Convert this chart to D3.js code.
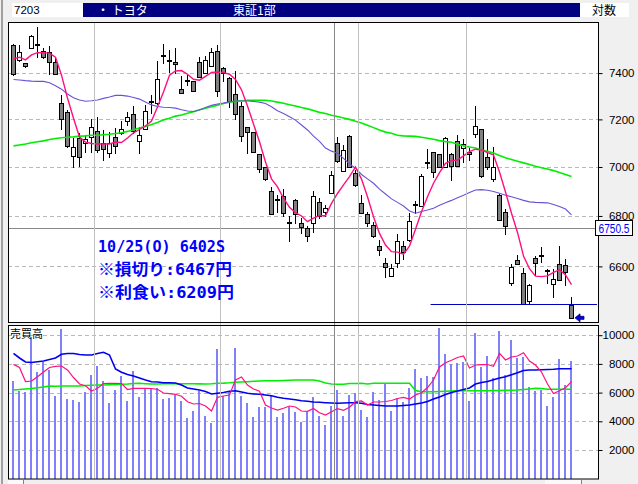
<!DOCTYPE html>
<html><head><meta charset="utf-8">
<script src="https://cdn.jsdelivr.net/npm/d3@7"></script>
<style>
html,body{margin:0;padding:0;background:#f0f0f0;}
svg{display:block;}
</style></head><body>
<svg id="c" width="638" height="484"></svg>
<script>
// ---- data ----
const headerCode = "7203";
const headerName = "・ トヨタ";
const headerMarket = "東証1部";
const headerScale = "対数";
const volumeTitle = "売買高";
const noteLines = ["10/25(O) 6402S", "※損切り:6467円", "※利食い:6209円"];

const opens = [7526,7457,7443,7509,7525,7499,7494,7447,7269,7230,
 7047,7120,7101,7127,7149,7101,7057,7124,7143,7194,
 7222,7110,7158,7276,7271,7475,7454,7447,7330,7370,
 7365,7447,7399,7433,7498,7421,7377,7309,7257,7166,
 7145,7053,6999,6901,6865,6882,6773,6865,6771,6750,
 6771,6858,6817,6894,7098,6985,7130,6975,6853,6807,
 6764,6682,6612,6564,6612,6682,6704,6844,6841,7018,
 7064,7053,7001,7053,7110,7081,7064,7137,7158,7040,
 6949,6885,6815,6537,6626,6573,6466,6632,6642,6583,
 6532,6609,6606,6450];
const highs = [7530,7524,7446,7569,7603,7509,7520,7466,7303,7240,
 7120,7141,7134,7200,7209,7155,7148,7165,7195,7233,
 7257,7169,7261,7304,7454,7528,7502,7509,7387,7391,
 7365,7470,7475,7509,7524,7428,7384,7409,7276,7166,
 7145,7053,6999,6919,6885,6909,6798,6869,6791,6760,
 6900,6872,6844,6983,7127,7092,7134,6988,6885,6815,
 6777,6704,6631,6610,6728,6699,6811,6862,6971,7074,
 7064,7053,7127,7060,7134,7117,7078,7257,7160,7117,
 7082,6891,6828,6610,6645,6593,6530,6641,6675,6591,
 6590,6680,6629,6481];
const lows = [7390,7455,7425,7509,7472,7466,7395,7395,7158,7085,
 6999,7005,7061,7064,7064,7029,7040,7057,7140,7176,
 7141,7059,7158,7226,7265,7443,7406,7399,7312,7348,
 7322,7382,7399,7433,7301,7367,7254,7201,7110,7057,
 7061,6979,6945,6807,6817,6798,6701,6771,6730,6698,
 6736,6791,6798,6894,7021,6985,7001,6922,6810,6760,
 6714,6645,6558,6562,6599,6630,6698,6811,6841,6995,
 6959,6999,7001,6946,7005,7022,7029,7124,6960,6990,
 6942,6784,6727,6526,6609,6453,6460,6567,6616,6537,
 6481,6548,6529,6402];
const closes = [7395,7495,7430,7563,7525,7470,7447,7395,7200,7089,
 7085,7040,7117,7169,7071,7074,7098,7088,7160,7209,
 7151,7134,7236,7276,7373,7475,7454,7439,7312,7365,
 7322,7382,7457,7492,7322,7402,7280,7222,7131,7145,
 7061,6990,6949,6807,6865,6813,6773,6807,6757,6721,
 6882,6801,6833,6967,7026,7071,7001,6926,6813,6771,
 6721,6665,6597,6593,6699,6658,6781,6844,6963,7018,
 6978,6999,7120,7004,7005,7095,7053,7173,6964,7001,
 7001,6784,6760,6597,6609,6453,6527,6612,6642,6583,
 6550,6548,6578,6402];

const maShort = [7462,7470,7458,7480,7490,7490,7488,7470,7391,7292,
 7205,7125,7104,7098,7096,7096,7096,7104,7102,7121,
 7143,7157,7172,7193,7253,7318,7391,7409,7411,7395,
 7373,7369,7386,7403,7405,7402,7395,7372,7327,7257,
 7180,7105,7021,6951,6918,6872,6835,6813,6800,6777,
 6791,6801,6801,6851,6891,6926,6960,7000,6950,6878,
 6797,6730,6684,6658,6656,6648,6680,6747,6817,6878,
 6933,6977,7015,7026,7029,7046,7064,7074,7071,7060,
 7050,6979,6897,6811,6734,6641,6591,6562,6560,6563,
 6577,6587,6567,6529];
const maMid = [7372,7370,7367,7365,7364,7364,7358,7345,7330,7309,
 7293,7283,7278,7280,7283,7290,7296,7303,7303,7300,
 7294,7287,7274,7262,7255,7252,7251,7248,7241,7236,
 7234,7240,7251,7260,7266,7270,7275,7279,7279,7279,
 7277,7274,7268,7254,7237,7225,7211,7197,7176,7155,
 7129,7107,7079,7066,7057,7036,7013,6995,6969,6951,
 6933,6909,6889,6869,6855,6840,6820,6811,6818,6824,
 6831,6843,6853,6863,6874,6884,6895,6905,6907,6904,
 6899,6892,6884,6878,6871,6863,6857,6855,6854,6853,
 6846,6838,6828,6804];
const maLong = [7088,7092,7096,7101,7105,7109,7115,7119,7122,7124,
 7126,7129,7130,7133,7133,7135,7137,7140,7143,7149,
 7156,7163,7170,7178,7187,7198,7205,7214,7219,7226,
 7233,7241,7248,7254,7261,7268,7274,7277,7280,7282,
 7282,7282,7282,7279,7274,7269,7263,7257,7251,7245,
 7238,7230,7225,7218,7212,7206,7200,7192,7185,7175,
 7165,7155,7146,7141,7133,7130,7129,7128,7124,7120,
 7116,7110,7106,7103,7095,7088,7083,7079,7071,7065,
 7058,7048,7038,7031,7024,7017,7010,7003,6997,6992,
 6985,6977,6969,6961];

const volumes = [6808,6111,6042,9895,7456,8111,7575,5763,10432,5554,
 5484,5345,6042,7226,7854,6808,5296,6181,7157,5436,
 7505,5714,6272,6230,6342,5575,5645,5833,5436,4230,
 4739,6132,4369,3861,9038,5763,6132,9108,5763,5296,
 4279,4976,4976,5763,4279,4557,4976,4669,3972,4669,
 5672,4400,3742,5066,6181,4369,5833,5993,4787,4321,
 6063,5484,6690,4718,5645,5366,6342,7645,7038,7157,
 7066,10502,8690,7993,8084,8153,5415,10174,7805,8551,
 6997,10293,7226,9666,8390,8481,6411,6132,6181,5066,
 5714,8341,6530,8223];
const volMaShort = [7965,7749,6774,6808,7108,7436,7749,7833,7854,7575,
 7052,6599,6481,6111,6300,6634,6648,6648,6634,6216,
 6300,6300,6300,6286,6230,5972,5923,5882,5742,5366,
 5206,5240,5066,4718,5672,5763,5833,6878,7087,6530,
 6251,6091,5136,4927,4787,4906,5066,4997,4718,4697,
 4892,4599,4439,4669,4878,4767,4976,5366,5415,5136,
 5345,5345,5380,5449,5589,5672,5554,5833,5993,6355,
 6878,7784,8084,8251,8446,8551,7714,7923,7944,7958,
 7833,8739,8272,8481,8551,8780,8202,7923,7436,6599,
 5937,6132,6341,6760];
const volMaMid = [8739,8411,8132,8098,8153,8202,8307,8411,8669,8725,
 8725,8655,8620,8620,8725,8808,8620,7645,7415,7261,
 7157,7017,6878,6760,6739,6690,6690,6669,6530,6321,
 6251,6181,6077,5902,5951,6007,6091,6132,6042,5951,
 5902,5882,5833,5784,5672,5603,5554,5505,5436,5394,
 5345,5324,5296,5275,5254,5275,5289,5289,5254,5171,
 5136,5101,5066,5066,5066,5101,5136,5206,5275,5380,
 5554,5693,5868,6007,6112,6216,6321,6599,6704,6774,
 6899,7017,7108,7247,7387,7540,7575,7575,7589,7610,
 7624,7659,7666,7666];
const volMaLong = [6181,6216,6251,6286,6341,6390,6460,6439,6460,6460,
 6460,6460,6495,6509,6530,6530,6544,6564,6578,6599,
 6634,6648,6620,6599,6599,6613,6613,6613,6613,6613,
 6613,6606,6599,6613,6648,6660,6683,6718,6739,6760,
 6787,6808,6829,6829,6829,6843,6864,6878,6878,6878,
 6878,6808,6669,6599,6578,6578,6634,6634,6648,6599,
 6648,6648,6648,6648,6648,6648,6648,6146,6063,6063,
 6063,6077,6097,6112,6125,6132,6132,6132,6132,6132,
 6146,6146,6160,6160,6181,6216,6251,6300,6286,6230,
 6230,6230,6230,6230];

const priceTicks = [6600, 6800, 7000, 7200, 7400];
const volumeTicks = [2000, 4000, 6000, 8000, 10000];
const monthBreaks = [13.5, 34.5, 57.5, 75.5];   // bar-index positions of month separators
const crossIndex = 53.42;
const crossPrice = 6750.5;
const levelPrice = 6453;
const levelStartIndex = 69.6;
const lastCloseLabel = "6750.5";

// ---- layout ----
const svg = d3.select("#c");
const M = {l:8, r:598, t:22, b:322};
const V = {l:8, r:598, t:325.5, b:479};
const n = opens.length;
const x = d3.scaleLinear().domain([0, n-1]).range([13, 571]);
const y = d3.scaleLog().domain([6600, 7400]).range([266.4, 73.1]);
const yv = d3.scaleLinear().domain([0, 10000]).range([478.7, 335.2]);
const idx = d3.range(n);
const JP = "'Noto Sans CJK JP', sans-serif";
const NUM = "'Liberation Sans', Arial, sans-serif";

svg.append("rect").attr("width",638).attr("height",484).attr("fill","#f0f0f0");
svg.append("rect").attr("x",1).attr("y",0).attr("width",2).attr("height",484).attr("fill","#a0a0a0");

// header
svg.append("rect").attr("x",12).attr("y",3).attr("width",71).attr("height",14).attr("fill","#fff");
svg.append("text").attr("x",14).attr("y",14).text(headerCode).attr("font-family",NUM).attr("font-size",11.5).attr("fill","#000");
svg.append("rect").attr("x",83).attr("y",3).attr("width",497).attr("height",14).attr("fill","#000080");
svg.append("text").attr("x",97).attr("y",14.5).text(headerName).attr("font-family",JP).attr("font-size",12).attr("fill","#fff");
svg.append("text").attr("x",233).attr("y",14.5).text(headerMarket).attr("font-family",JP).attr("font-size",12).attr("fill","#fff");
svg.append("rect").attr("x",580).attr("y",3).attr("width",49).attr("height",14).attr("fill","#fff");
svg.append("text").attr("x",592).attr("y",14.5).text(headerScale).attr("font-family",JP).attr("font-size",12).attr("fill","#000");

// clip paths
const defs = svg.append("defs");
defs.append("clipPath").attr("id","cm").append("rect").attr("x",M.l).attr("y",M.t).attr("width",M.r-M.l).attr("height",M.b-M.t);
defs.append("clipPath").attr("id","cv").append("rect").attr("x",V.l).attr("y",V.t).attr("width",V.r-V.l).attr("height",V.b-V.t);

// panels
svg.append("rect").attr("x",M.l+0.5).attr("y",M.t+0.5).attr("width",M.r-M.l).attr("height",M.b-M.t).attr("fill","#fff");
svg.append("rect").attr("x",V.l+0.5).attr("y",V.t).attr("width",V.r-V.l).attr("height",V.b-V.t).attr("fill","#fff");

const gm = svg.append("g").attr("clip-path","url(#cm)");
const gv = svg.append("g").attr("clip-path","url(#cv)");

// dashed grids
gm.selectAll("line.hg").data(priceTicks).join("line")
  .attr("x1",M.l).attr("x2",M.r).attr("y1",d=>Math.round(y(d))+0.5).attr("y2",d=>Math.round(y(d))+0.5)
  .attr("stroke","#b8b8b8").attr("stroke-dasharray","4,3");
gv.selectAll("line.hg").data(volumeTicks).join("line")
  .attr("x1",V.l).attr("x2",V.r).attr("y1",d=>Math.round(yv(d))+0.5).attr("y2",d=>Math.round(yv(d))+0.5)
  .attr("stroke","#b8b8b8").attr("stroke-dasharray","4,3");

// month separators & crosshair (span both panels)
svg.selectAll("line.mb").data(monthBreaks).join("line")
  .attr("x1",d=>Math.round(x(d))+0.5).attr("x2",d=>Math.round(x(d))+0.5)
  .attr("y1",M.t+1).attr("y2",V.b).attr("stroke","#c0c0c0");
svg.append("line").attr("x1",Math.round(x(crossIndex))+0.5).attr("x2",Math.round(x(crossIndex))+0.5)
  .attr("y1",M.t+1).attr("y2",V.b).attr("stroke","#888");
gm.append("line").attr("x1",M.l).attr("x2",M.r).attr("y1",Math.round(y(crossPrice))+0.5).attr("y2",Math.round(y(crossPrice))+0.5)
  .attr("stroke","#888");

// candles
const cg = gm.append("g").attr("shape-rendering","crispEdges");
idx.forEach(i=>{
  const px = Math.round(x(i));
  cg.append("line").attr("x1",px+0.5).attr("x2",px+0.5)
    .attr("y1",Math.round(y(highs[i]))).attr("y2",Math.round(y(lows[i]))+1).attr("stroke","#000");
  const o = opens[i], c = closes[i];
  if (Math.abs(o-c) < 3) {
    cg.append("rect").attr("x",px-2).attr("width",5).attr("y",Math.round(y(c))-1).attr("height",2).attr("fill","#000");
  } else {
    const t = Math.round(y(Math.max(o,c))), b = Math.round(y(Math.min(o,c)));
    cg.append("rect").attr("x",px-1.5).attr("width",4).attr("y",t+0.5).attr("height",Math.max(b-t,1))
      .attr("fill", c>o ? "#fff" : "#808080").attr("stroke","#000");
  }
});

// moving averages
const lineP = arr => d3.line().x(i=>x(i)+0.5).y(i=>y(arr[i]))(idx);
gm.append("path").attr("d",lineP(maLong)).attr("fill","none").attr("stroke","#00ee00").attr("stroke-width",1.6);
gm.append("path").attr("d",lineP(maMid)).attr("fill","none").attr("stroke","#6a52d6").attr("stroke-width",1.1);
gm.append("path").attr("d",lineP(maShort)).attr("fill","none").attr("stroke","#ff1080").attr("stroke-width",1.4);

// level line and arrow
const ly = Math.round(y(levelPrice))+0.5;
gm.append("line").attr("x1",x(levelStartIndex)).attr("x2",M.r-1).attr("y1",ly).attr("y2",ly).attr("stroke","#0000c0");
const ax = x(n-1)+4, ay = y(closes[n-1]);
gm.append("path").attr("d",`M${ax},${ay} L${ax+5},${ay-4} L${ax+5},${ay-1.5} L${ax+9},${ay-1.5} L${ax+9},${ay+1.5} L${ax+5},${ay+1.5} L${ax+5},${ay+4} Z`)
  .attr("fill","#0000ff").attr("stroke","#000060").attr("stroke-width",0.8);

// notes
const noteWidths = [127, 134, 136];
noteLines.forEach((t,i)=>{
  svg.append("text").attr("x",98).attr("y",251.5+23*i).text(t)
    .attr("font-family","'DejaVu Sans Mono','Noto Sans CJK JP',monospace").attr("font-weight","bold")
    .attr("font-size",16).attr("fill","#0000ff")
    .attr("textLength",noteWidths[i]).attr("lengthAdjust","spacingAndGlyphs");
});

// volume bars
gv.append("g").attr("shape-rendering","crispEdges").selectAll("rect").data(idx).join("rect")
  .attr("x",i=>Math.round(x(i))-1).attr("width",2)
  .attr("y",i=>yv(volumes[i])).attr("height",i=>yv(0)-yv(volumes[i])+1)
  .attr("fill","#8080f8");
const lineV = arr => d3.line().x(i=>x(i)+0.5).y(i=>yv(arr[i]))(idx);
gv.append("path").attr("d",lineV(volMaLong)).attr("fill","none").attr("stroke","#00ee00").attr("stroke-width",1.6);
gv.append("path").attr("d",lineV(volMaMid)).attr("fill","none").attr("stroke","#0000ee").attr("stroke-width",1.6);
gv.append("path").attr("d",lineV(volMaShort)).attr("fill","none").attr("stroke","#ff1080").attr("stroke-width",1.2);
svg.append("text").attr("x",10).attr("y",337.5).text(volumeTitle).attr("font-family",JP).attr("font-size",11).attr("fill","#000");

// frames
svg.append("rect").attr("x",M.l+0.5).attr("y",M.t+0.5).attr("width",M.r-M.l).attr("height",M.b-M.t)
  .attr("fill","none").attr("stroke","#000");
svg.append("rect").attr("x",V.l+0.5).attr("y",V.t).attr("width",V.r-V.l).attr("height",V.b-V.t)
  .attr("fill","none").attr("stroke","#000");

// right axes
const axM = d3.axisRight(y).tickValues(priceTicks).tickSize(4).tickFormat(d3.format("d"));
const gAxM = svg.append("g").attr("transform",`translate(${M.r+0.5},0)`).call(axM);
const axV = d3.axisRight(yv).tickValues(volumeTicks).tickSize(4).tickFormat(d3.format("d"));
const gAxV = svg.append("g").attr("transform",`translate(${V.r+0.5},0)`).call(axV);
[gAxM,gAxV].forEach(g=>{
  g.select(".domain").remove();
  g.selectAll("line").attr("stroke","#000");
  g.selectAll("text").attr("x",36).attr("text-anchor","end").attr("font-family",NUM).attr("font-size",11.5).attr("fill","#000");
});

// current value box
const cy = Math.round(y(crossPrice));
svg.append("rect").attr("x",595.5).attr("y",cy-7.5).attr("width",37).attr("height",15).attr("fill","#fff").attr("stroke","#000");
svg.append("text").attr("x",614).attr("y",cy+4.5).attr("text-anchor","middle").text(lastCloseLabel)
  .attr("font-family",NUM).attr("font-size",12.5).attr("fill","#0000ff")
  .attr("textLength",31).attr("lengthAdjust","spacingAndGlyphs");

// scrollbar stubs at bottom
svg.append("rect").attr("x",8).attr("y",480).attr("width",15).attr("height",4).attr("fill","#fafafa");
svg.append("line").attr("x1",23.5).attr("x2",23.5).attr("y1",480).attr("y2",484).attr("stroke","#808080");
svg.append("rect").attr("x",545).attr("y",480).attr("width",36).attr("height",4).attr("fill","#fafafa");
svg.append("line").attr("x1",581.5).attr("x2",581.5).attr("y1",480).attr("y2",484).attr("stroke","#808080");
</script>
</body></html>
